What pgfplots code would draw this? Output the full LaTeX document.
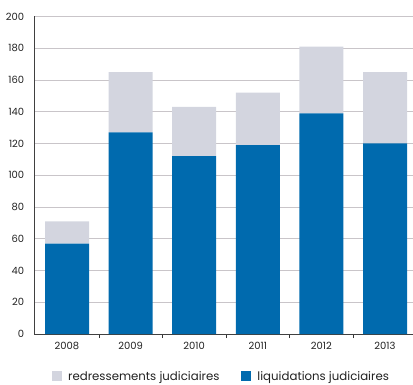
\documentclass[border=0pt]{standalone}
\usepackage{pgfplots}
\pgfplotsset{compat=1.18}
\usepackage{fontspec}
\setmainfont{Poppins}
\definecolor{cblue}{HTML}{006AAE}
\definecolor{cgray}{HTML}{D3D5DF}
\definecolor{cgrid}{HTML}{C9C5C9}
\definecolor{ctext}{HTML}{222222}
\begin{document}
\begin{tikzpicture}
\begin{axis}[
  anchor=south west, at={(0,0)},
  scale only axis, width=379bp, height=317.5bp,
  xmin=-0.519, xmax=5.44, ymin=0, ymax=200,
  ybar stacked, bar width=0.692,
  axis x line*=bottom, axis y line*=left,
  axis line style={color=black!75, line width=0.8pt},
  xtick={0,...,5}, xticklabels={2008,2009,2010,2011,2012,2013},
  major x tick style={draw=none},
  minor xtick={0.5,1.5,2.5,3.5,4.5},
  minor x tick style={black!80, line width=0.6pt},
  minor tick length=4bp, tick align=outside,
  ytick={0,20,...,200}, major y tick style={draw=none},
  ymajorgrids, grid style={cgrid, line width=0.8pt},
  tick label style={font=\fontsize{10}{11}\selectfont, text=ctext},
  /pgf/number format/assume math mode=true,
  yticklabel style={xshift=-2bp},
  xticklabel style={yshift=0bp},
  legend columns=2, reverse legend,
  legend style={at={(18bp,-35bp)}, anchor=north west, draw=none, inner sep=0pt,
    font=\fontsize{11.8}{12}\selectfont, text=ctext,
    /tikz/every odd column/.append style={column sep=4bp},
    /tikz/every even column/.append style={column sep=20bp}},
  legend cell align=left,
  legend image code/.code={\fill[#1] (0bp,-5bp) rectangle (10bp,5bp);},
]
\addplot[fill=cblue, draw=none] coordinates {(0,57) (1,127) (2,112) (3,119) (4,139) (5,120)};
\addlegendentry{liquidations judiciaires}
\addplot[fill=cgray, draw=none] coordinates {(0,14) (1,38) (2,31) (3,33) (4,42) (5,45)};
\addlegendentry{redressements judiciaires}
\end{axis}
\pgfresetboundingbox
\path[use as bounding box] (-34bp,-51bp) rectangle (379bp,334bp);
\end{tikzpicture}
\end{document}
